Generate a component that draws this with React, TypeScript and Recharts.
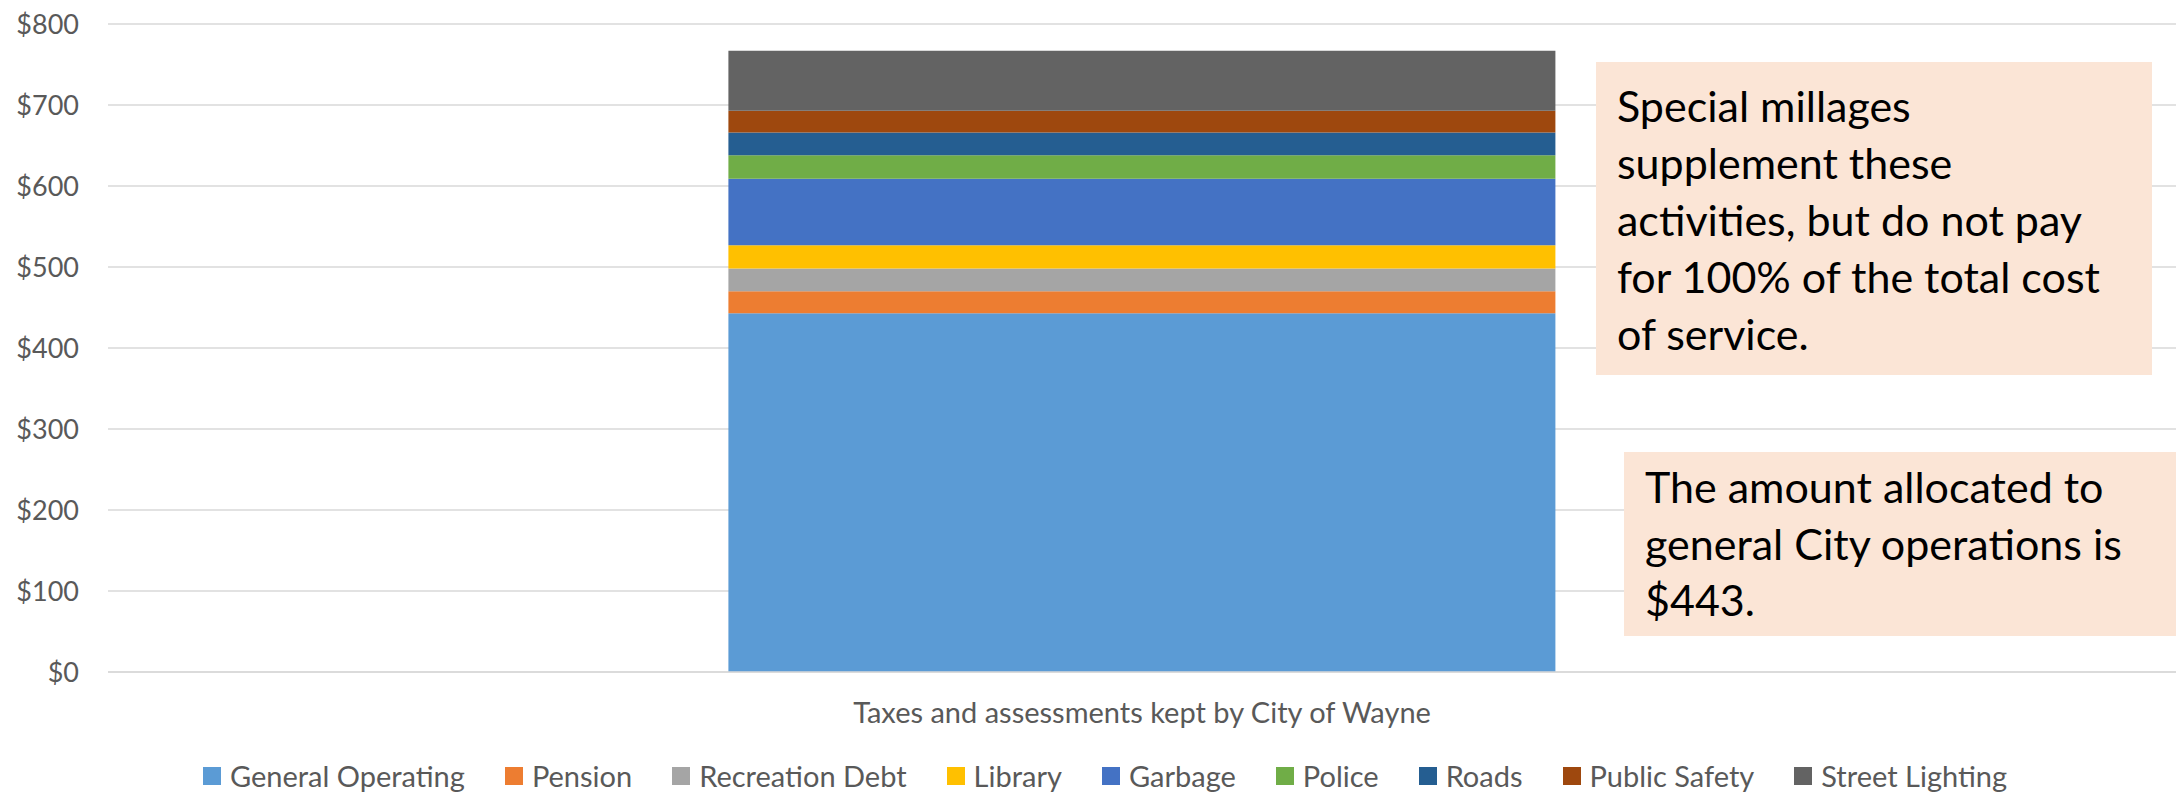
import React from 'react';
import { BarChart, Bar, XAxis, YAxis, CartesianGrid, Legend } from 'recharts';

const categories = ['Taxes and assessments kept by City of Wayne'];

const seriesNames = [
  'General Operating',
  'Pension',
  'Recreation Debt',
  'Library',
  'Garbage',
  'Police',
  'Roads',
  'Public Safety',
  'Street Lighting',
];

// dollars per category, bottom of stack first
const seriesValues = [443, 27, 28, 29, 82, 29, 28, 27, 74];

const seriesColors = [
  '#5B9BD5',
  '#ED7D31',
  '#A5A5A5',
  '#FFC000',
  '#4472C4',
  '#70AD47',
  '#255E91',
  '#9E480E',
  '#636363',
];

const yTicks = [0, 100, 200, 300, 400, 500, 600, 700, 800];

const noteTop = [
  'Special millages',
  'supplement these',
  'activities, but do not pay',
  'for 100% of the total cost',
  'of service.',
];

const noteBottom = ['The amount allocated to', 'general City operations is', '$443.'];

const FONT = 'Lato, "Open Sans", sans-serif';
const AXIS_GREY = '#595959';
const GRID = '#D9D9D9';

const data = categories.map((category) => {
  const row: Record<string, string | number> = { category };
  seriesNames.forEach((name, i) => {
    row[name] = seriesValues[i];
  });
  return row;
});

function LegendContent({ payload }: any) {
  // keep the series order instead of the alphabetical one
  const items = [...(payload || [])].sort(
    (a: any, b: any) => seriesNames.indexOf(a.value) - seriesNames.indexOf(b.value)
  );
  return (
    <div
      style={{
        display: 'flex',
        justifyContent: 'center',
        gap: 40,
        paddingTop: 16,
        paddingLeft: 34,
        height: 34,
        lineHeight: '34px',
        fontFamily: FONT,
        fontSize: 29,
        color: AXIS_GREY,
      }}
    >
      {items.map((item: any) => (
        <div key={item.value} style={{ display: 'flex', alignItems: 'center' }}>
          <span
            style={{
              width: 18,
              height: 18,
              background: item.color,
              marginRight: 9,
              display: 'inline-block',
            }}
          />
          <span>{item.value}</span>
        </div>
      ))}
    </div>
  );
}

function NoteBox({ lines, style }: { lines: string[]; style: React.CSSProperties }) {
  return (
    <div
      style={{
        position: 'absolute',
        background: '#FBE5D6',
        fontFamily: FONT,
        fontSize: 43,
        lineHeight: '57px',
        color: '#000',
        paddingLeft: 21,
        boxSizing: 'border-box',
        whiteSpace: 'nowrap',
        ...style,
      }}
    >
      {lines.map((l) => (
        <div key={l}>{l}</div>
      ))}
    </div>
  );
}

export default function App() {
  return (
    <div style={{ position: 'absolute', left: 0, top: 0, width: 2176, height: 793, background: '#fff' }}>
      <BarChart
        width={2176}
        height={793}
        data={data}
        margin={{ top: 24, right: 0, bottom: 0, left: 0 }}
        barCategoryGap="30%"
      >
        <CartesianGrid vertical={false} stroke={GRID} strokeWidth={1.5} />
        <XAxis
          dataKey="category"
          tick={false}
          tickLine={false}
          height={71}
          axisLine={{ stroke: GRID, strokeWidth: 1.5 }}
          label={{
            value: categories[0],
            position: 'insideTop',
            offset: 30,
            fill: AXIS_GREY,
            fontSize: 29,
            fontFamily: FONT,
          }}
        />
        <YAxis
          domain={[0, 800]}
          ticks={yTicks}
          width={108}
          axisLine={false}
          tickLine={false}
          tickSize={0}
          tickMargin={29}
          tickFormatter={(v: number) => `$${v}`}
          tick={{ fill: AXIS_GREY, fontSize: 27, fontFamily: FONT }}
        />
        <Legend verticalAlign="bottom" height={50} content={<LegendContent />} />
        {seriesNames.map((name, i) => (
          <Bar
            key={name}
            dataKey={name}
            stackId="total"
            fill={seriesColors[i]}
            isAnimationActive={false}
          />
        ))}
      </BarChart>
      <NoteBox lines={noteTop} style={{ left: 1596, top: 62, width: 556, height: 313, paddingTop: 15 }} />
      <NoteBox
        lines={noteBottom}
        style={{ left: 1624, top: 452, width: 552, height: 184, paddingTop: 7, lineHeight: '56.5px' }}
      />
    </div>
  );
}
